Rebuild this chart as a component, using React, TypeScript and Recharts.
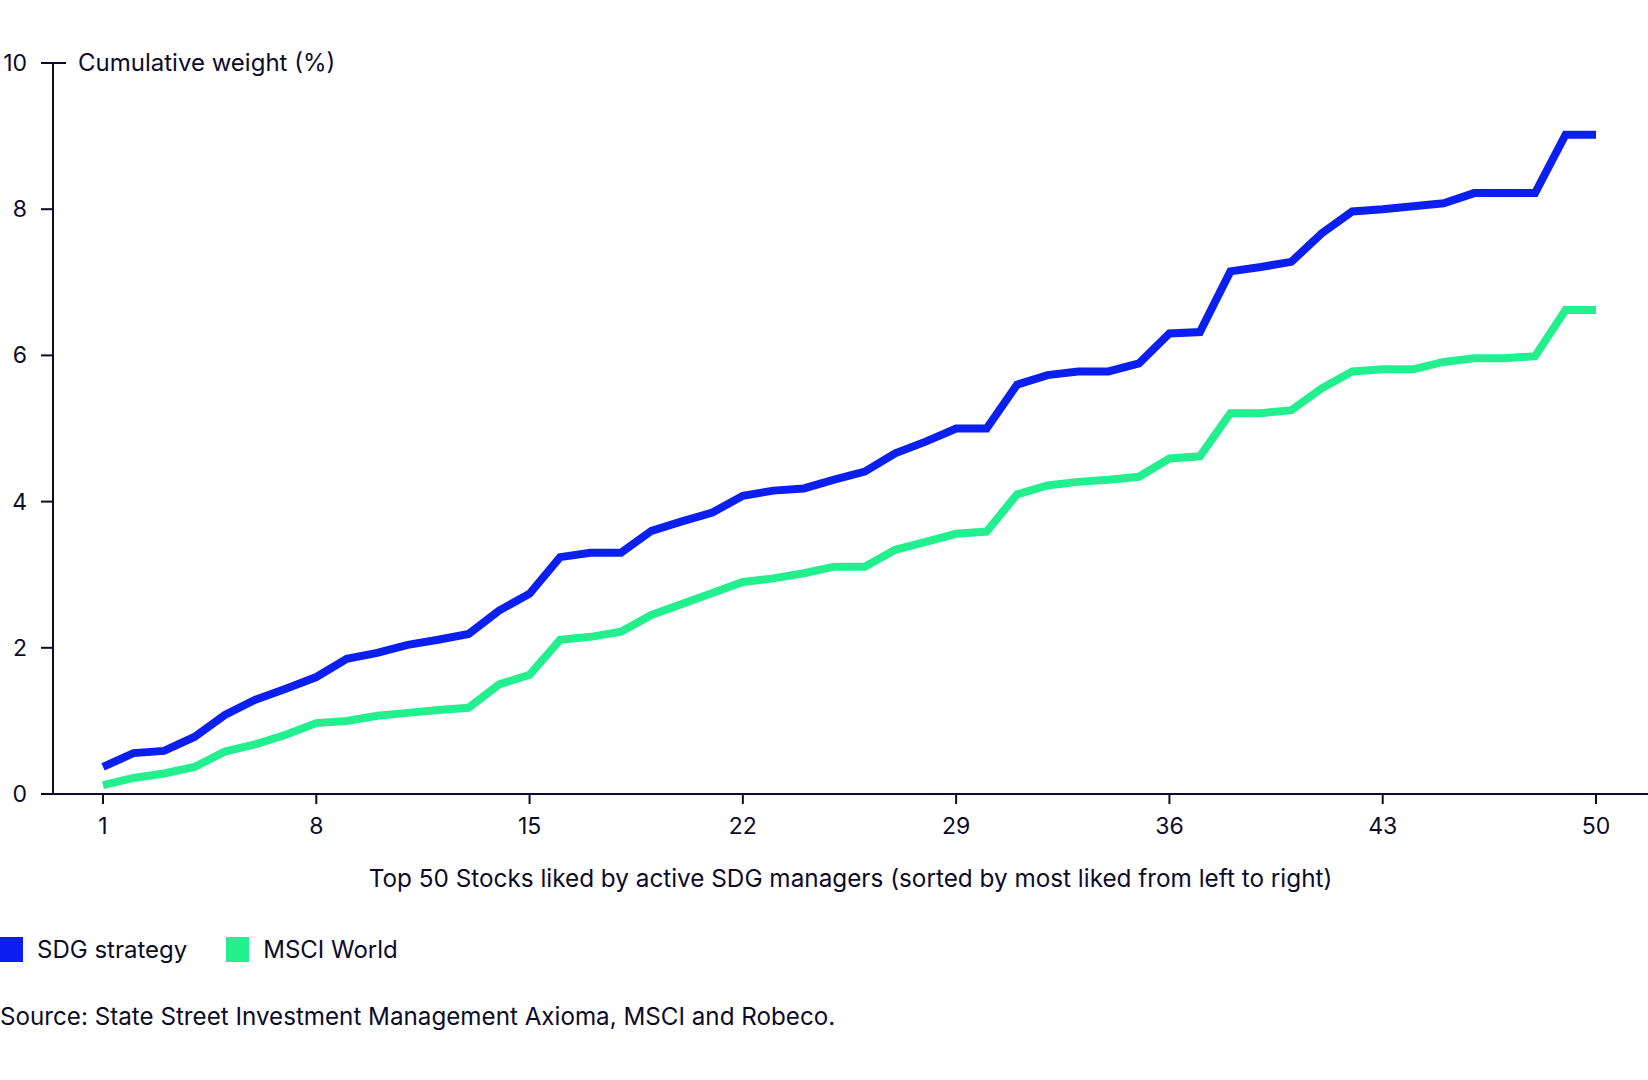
import React from 'react';
import { LineChart, Line, XAxis, YAxis, Legend } from 'recharts';

const ranks = [
  1, 2, 3, 4, 5, 6, 7, 8, 9, 10, 11, 12, 13, 14, 15, 16, 17, 18, 19, 20, 21, 22, 23, 24, 25,
  26, 27, 28, 29, 30, 31, 32, 33, 34, 35, 36, 37, 38, 39, 40, 41, 42, 43, 44, 45, 46, 47, 48, 49, 50,
];

const sdgStrategy = [
  0.37, 0.56, 0.59, 0.78, 1.08, 1.29, 1.44, 1.6, 1.85, 1.93,
  2.04, 2.11, 2.19, 2.51, 2.74, 3.24, 3.3, 3.3, 3.6, 3.73,
  3.85, 4.08, 4.15, 4.18, 4.3, 4.41, 4.66, 4.82, 5.0, 5.0,
  5.6, 5.73, 5.78, 5.78, 5.89, 6.3, 6.32, 7.15, 7.21, 7.28,
  7.67, 7.97, 8.0, 8.04, 8.08, 8.22, 8.22, 8.22, 9.02, 9.02,
];

const msciWorld = [
  0.12, 0.22, 0.28, 0.37, 0.58, 0.68, 0.81, 0.97, 1.0, 1.07,
  1.11, 1.15, 1.18, 1.5, 1.63, 2.11, 2.15, 2.22, 2.45, 2.6,
  2.75, 2.9, 2.95, 3.02, 3.11, 3.11, 3.34, 3.45, 3.56, 3.59,
  4.1, 4.22, 4.27, 4.3, 4.34, 4.59, 4.62, 5.21, 5.21, 5.25,
  5.55, 5.78, 5.81, 5.81, 5.91, 5.96, 5.96, 5.99, 6.62, 6.62,
];

const xTicks = [1, 8, 15, 22, 29, 36, 43, 50];
const yTicks = [0, 2, 4, 6, 8, 10];

const series = [
  { key: 'sdg', name: 'SDG strategy', color: '#0a1ff0' },
  { key: 'msci', name: 'MSCI World', color: '#22f08e' },
];

const INK = '#0d0b2a';
const FONT = 'Inter, "Noto Sans", sans-serif';

const data = ranks.map((rank, i) => ({ rank, sdg: sdgStrategy[i], msci: msciWorld[i] }));

const YTick = (props: any) => {
  const { x, y, payload } = props;
  const axisX = x + 26;
  const isTop = payload.value === 10;
  return (
    <g>
      <line x1={axisX - 12} x2={isTop ? axisX + 13 : axisX} y1={y} y2={y} stroke={INK} strokeWidth={2} />
      <text x={x} y={y} dy="0.35em" textAnchor="end" fill={INK} fontSize={23}>
        {payload.value}
      </text>
    </g>
  );
};

const renderLegend = () => (
  <div style={{ display: 'flex', alignItems: 'center', fontSize: 24, color: INK }}>
    {series.map((s) => (
      <div key={s.key} style={{ display: 'flex', alignItems: 'center', marginRight: 39 }}>
        <span style={{ width: 23, height: 25, background: s.color, display: 'inline-block', marginRight: 14 }} />
        <span>{s.name}</span>
      </div>
    ))}
  </div>
);

export default function App() {
  return (
    <div style={{ position: 'absolute', left: 0, top: 0, width: 1648, height: 1080, background: '#fff', fontFamily: FONT }}>
      <LineChart width={1648} height={1080} data={data} margin={{ top: 63, right: 0, left: 0, bottom: 226 }}>
        <XAxis
          dataKey="rank"
          type="number"
          domain={[1, 50]}
          ticks={xTicks}
          padding={{ left: 50, right: 52 }}
          height={60}
          axisLine={{ stroke: INK, strokeWidth: 2 }}
          tickLine={{ stroke: INK, strokeWidth: 2 }}
          tickSize={10}
          tickMargin={14}
          tick={{ fill: INK, fontSize: 23 }}
          label={{
            content: ({ viewBox }: any) => (
              <text
                x={viewBox.x + viewBox.width / 2}
                y={viewBox.y + 84}
                dy="0.35em"
                textAnchor="middle"
                fill={INK}
                fontSize={24.3}
              >
                Top 50 Stocks liked by active SDG managers (sorted by most liked from left to right)
              </text>
            ),
          }}
        />
        <YAxis
          domain={[0, 10]}
          ticks={yTicks}
          width={53}
          axisLine={{ stroke: INK, strokeWidth: 2 }}
          tickLine={false}
          tickSize={12}
          tickMargin={14}
          tick={<YTick />}
          label={{
            content: ({ viewBox }: any) => (
              <text x={viewBox.x + viewBox.width + 25} y={viewBox.y} dy="0.35em" fill={INK} fontSize={24}>
                Cumulative weight (%)
              </text>
            ),
          }}
        />
        <Legend
          verticalAlign="middle"
          align="center"
          layout="horizontal"
          wrapperStyle={{ top: 935, left: 0 }}
          content={renderLegend}
        />
        {series.map((s) => (
          <Line
            key={s.key}
            dataKey={s.key}
            name={s.name}
            stroke={s.color}
            strokeWidth={8}
            dot={false}
            activeDot={false}
            isAnimationActive={false}
          />
        ))}
      </LineChart>
      <div style={{ position: 'absolute', left: 0, top: 1003, fontSize: 24.2, color: INK, lineHeight: '28px' }}>
        Source: State Street Investment Management Axioma, MSCI and Robeco.
      </div>
    </div>
  );
}
